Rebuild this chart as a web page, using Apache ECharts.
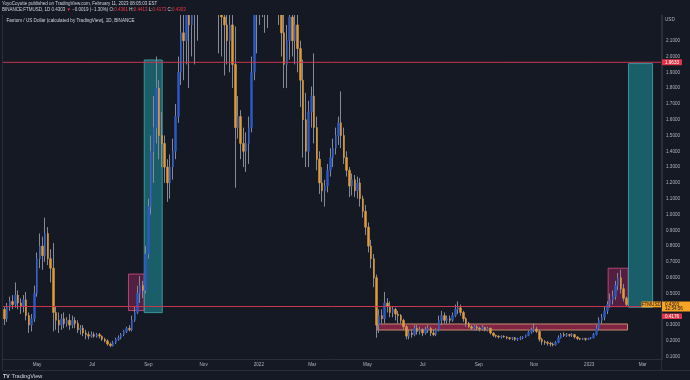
<!DOCTYPE html>
<html><head><meta charset="utf-8">
<script src="https://cdn.jsdelivr.net/npm/echarts@6/dist/echarts.min.js"></script>
<style>html,body{margin:0;padding:0;background:#151924;}#c{width:690px;height:380px;}</style>
</head><body><div id="c"></div>
<script>
// ---- data ----
const startDate = '2021-03-25';   // first 3-day candle
const stepDays = 3;
// [open, close, low, high]
const candles = [
[0.40,0.34,0.30,0.42],[0.34,0.42,0.32,0.44],[0.42,0.45,0.39,0.48],[0.45,0.43,0.40,0.49],[0.43,0.49,0.41,0.57],
[0.49,0.44,0.40,0.52],[0.44,0.42,0.37,0.47],[0.42,0.46,0.38,0.49],[0.46,0.36,0.33,0.51],[0.36,0.30,0.25,0.38],
[0.30,0.34,0.26,0.37],[0.34,0.50,0.32,0.55],[0.50,0.72,0.48,0.76],[0.72,0.80,0.66,0.88],[0.80,0.74,0.65,0.86],
[0.74,0.88,0.70,0.98],[0.88,0.72,0.68,0.92],[0.72,0.66,0.57,0.78],[0.66,0.38,0.26,0.82],[0.38,0.33,0.27,0.42],
[0.33,0.30,0.25,0.38],[0.30,0.34,0.27,0.37],[0.34,0.31,0.28,0.38],[0.31,0.33,0.29,0.35],[0.33,0.30,0.27,0.37],
[0.30,0.33,0.28,0.36],[0.33,0.31,0.28,0.35],[0.31,0.27,0.25,0.33],[0.27,0.28,0.24,0.30],[0.28,0.25,0.23,0.30],
[0.25,0.24,0.21,0.27],[0.24,0.23,0.21,0.26],[0.23,0.24,0.22,0.26],[0.24,0.23,0.22,0.255],[0.23,0.24,0.22,0.25],
[0.24,0.23,0.215,0.25],[0.23,0.21,0.20,0.235],[0.21,0.20,0.19,0.22],[0.20,0.18,0.17,0.21],[0.18,0.17,0.16,0.19],
[0.17,0.19,0.165,0.20],[0.19,0.21,0.18,0.22],[0.21,0.22,0.20,0.235],[0.22,0.24,0.21,0.25],[0.24,0.26,0.23,0.27],
[0.26,0.28,0.25,0.29],[0.28,0.27,0.26,0.30],[0.27,0.33,0.26,0.36],[0.33,0.38,0.32,0.42],[0.38,0.50,0.37,0.55],
[0.50,0.55,0.44,0.61],[0.55,0.52,0.47,0.58],[0.52,0.75,0.50,0.80],[0.75,1.05,0.72,1.10],[1.05,1.40,1.00,1.50],
[1.40,1.55,1.20,1.75],[1.55,1.80,1.45,2.00],[1.80,1.50,1.35,1.85],[1.50,1.45,1.30,1.65],[1.45,1.30,1.20,1.50],
[1.30,1.20,1.08,1.35],[1.20,1.30,1.10,1.38],[1.30,1.40,1.22,1.48],[1.40,1.62,1.35,1.70],[1.62,1.90,1.58,2.00],
[1.90,2.15,1.82,2.30],[2.15,2.10,1.85,2.40],[2.10,2.30,1.95,2.50],[2.30,2.20,1.80,2.45],[2.20,2.40,2.00,2.60],
[2.40,2.55,1.95,2.70],[2.55,2.70,2.10,2.85],[2.70,3.00,2.55,3.30],[3.00,3.15,2.80,3.45],[3.15,2.95,2.70,3.25],
[2.95,2.75,2.55,3.05],[2.75,2.85,2.50,3.00],[2.85,2.60,2.35,2.95],[2.60,2.50,2.30,2.70],[2.50,2.30,2.02,2.60],
[2.30,2.25,2.00,2.45],[2.25,2.20,1.88,2.40],[2.20,2.10,1.95,2.30],[2.10,2.20,1.90,2.35],[2.20,1.95,1.80,2.30],
[1.95,1.55,1.17,2.19],[1.55,1.62,1.48,1.75],[1.62,1.45,1.35,1.66],[1.45,1.40,1.30,1.55],[1.40,1.45,1.27,1.52],
[1.45,1.55,1.32,1.62],[1.55,1.90,1.52,2.00],[1.90,2.40,1.85,2.60],[2.40,2.50,2.02,2.80],[2.50,2.65,2.20,2.90],
[2.65,2.45,2.25,2.80],[2.45,2.35,2.15,2.60],[2.35,2.60,2.18,2.75],[2.60,2.85,2.50,3.00],[2.85,3.10,2.70,3.40],
[3.10,2.85,2.60,3.20],[2.85,2.45,2.20,2.95],[2.45,2.15,2.00,2.55],[2.15,1.95,1.80,2.30],[1.95,2.10,1.80,2.20],
[2.10,2.25,1.98,2.40],[2.25,2.10,2.00,2.35],[2.10,2.20,1.95,2.30],[2.20,2.05,1.90,2.30],[2.05,1.85,1.68,2.10],
[1.85,1.60,1.36,1.98],[1.60,1.40,1.30,1.77],[1.40,1.65,1.30,1.72],[1.65,1.75,1.55,1.81],[1.75,1.55,1.45,2.02],
[1.55,1.35,1.28,1.62],[1.35,1.20,1.13,1.40],[1.20,1.15,1.08,1.30],[1.15,1.18,1.05,1.22],[1.18,1.28,1.14,1.32],
[1.28,1.36,1.24,1.42],[1.36,1.42,1.30,1.48],[1.42,1.50,1.38,1.55],[1.50,1.58,1.44,1.62],[1.58,1.50,1.42,1.78],
[1.50,1.36,1.32,1.55],[1.36,1.28,1.24,1.40],[1.28,1.18,1.11,1.30],[1.18,1.22,1.12,1.26],[1.22,1.15,1.11,1.25],
[1.15,1.20,1.10,1.24],[1.20,1.10,1.05,1.23],[1.10,1.02,0.98,1.12],[1.02,0.92,0.87,1.06],[0.92,0.80,0.76,0.95],
[0.80,0.72,0.66,0.84],[0.72,0.60,0.54,0.75],[0.60,0.30,0.22,0.62],[0.30,0.36,0.25,0.40],[0.36,0.34,0.31,0.40],
[0.34,0.44,0.31,0.51],[0.44,0.42,0.38,0.47],[0.42,0.38,0.35,0.45],[0.38,0.40,0.35,0.42],[0.40,0.37,0.33,0.41],
[0.37,0.36,0.31,0.39],[0.36,0.33,0.31,0.37],[0.33,0.29,0.27,0.34],[0.29,0.23,0.21,0.30],[0.23,0.25,0.21,0.27],
[0.25,0.24,0.22,0.27],[0.24,0.28,0.23,0.30],[0.28,0.26,0.24,0.30],[0.26,0.27,0.24,0.29],[0.27,0.25,0.23,0.28],
[0.25,0.27,0.24,0.29],[0.27,0.28,0.25,0.30],[0.28,0.25,0.23,0.29],[0.25,0.24,0.23,0.27],[0.24,0.27,0.23,0.28],
[0.27,0.33,0.26,0.36],[0.33,0.36,0.30,0.39],[0.36,0.33,0.31,0.38],[0.33,0.34,0.31,0.36],[0.34,0.33,0.31,0.36],
[0.33,0.36,0.32,0.38],[0.36,0.40,0.35,0.43],[0.40,0.41,0.37,0.45],[0.41,0.38,0.36,0.43],[0.38,0.34,0.32,0.39],
[0.34,0.31,0.29,0.35],[0.31,0.29,0.28,0.32],[0.29,0.28,0.27,0.30],[0.28,0.29,0.27,0.30],[0.29,0.28,0.265,0.30],
[0.28,0.275,0.26,0.29],[0.275,0.285,0.265,0.30],[0.285,0.27,0.26,0.29],[0.27,0.28,0.26,0.29],[0.28,0.25,0.24,0.285],
[0.25,0.235,0.225,0.255],[0.235,0.23,0.22,0.24],[0.23,0.225,0.215,0.235],[0.225,0.23,0.215,0.235],[0.23,0.225,0.22,0.235],
[0.225,0.22,0.21,0.23],[0.22,0.215,0.205,0.225],[0.215,0.22,0.205,0.225],[0.22,0.21,0.20,0.225],[0.21,0.215,0.20,0.22],
[0.215,0.22,0.205,0.23],[0.22,0.225,0.21,0.23],[0.225,0.235,0.22,0.24],[0.235,0.255,0.23,0.265],[0.255,0.27,0.245,0.285],
[0.27,0.275,0.255,0.31],[0.275,0.26,0.25,0.29],[0.26,0.21,0.195,0.27],[0.21,0.195,0.175,0.22],[0.195,0.19,0.175,0.205],
[0.19,0.185,0.17,0.20],[0.185,0.18,0.165,0.195],[0.18,0.175,0.165,0.19],[0.175,0.19,0.17,0.20],[0.19,0.22,0.185,0.235],
[0.22,0.24,0.215,0.25],[0.24,0.235,0.225,0.255],[0.235,0.24,0.225,0.25],[0.24,0.235,0.225,0.245],[0.235,0.24,0.225,0.25],
[0.24,0.225,0.215,0.245],[0.225,0.215,0.205,0.23],[0.215,0.21,0.205,0.22],[0.21,0.215,0.205,0.22],[0.215,0.21,0.20,0.22],
[0.21,0.215,0.205,0.22],[0.215,0.22,0.21,0.225],[0.22,0.24,0.215,0.25],[0.24,0.28,0.235,0.30],[0.28,0.33,0.27,0.35],
[0.33,0.35,0.31,0.37],[0.35,0.39,0.33,0.42],[0.39,0.43,0.37,0.45],[0.43,0.46,0.41,0.50],[0.46,0.48,0.43,0.52],
[0.48,0.55,0.46,0.58],[0.55,0.60,0.52,0.63],[0.60,0.53,0.50,0.65],[0.53,0.47,0.45,0.56],[0.47,0.4303,0.4173,0.48]
];
const yTicks = [0.1,0.2,0.3,0.4,0.5,0.6,0.7,0.8,0.9,1.0,1.1,1.2,1.3,1.4,1.5,1.6,1.7,1.8,1.9,2.0,2.1];
const xTickDates = ['2021-05-01','2021-07-01','2021-09-01','2021-11-01','2022-01-01','2022-03-01',
                    '2022-05-01','2022-07-01','2022-09-01','2022-11-01','2023-01-01','2023-03-01'];
const xTickLabels = ['May','Jul','Sep','Nov','2022','Mar','May','Jul','Sep','Nov','2023','Mar'];
const levels = [1.9633, 0.4176];
const lastPrice = 0.4303;
const viewRange = ['2021-03-24T09:22:00Z', '2023-03-22T09:36:00Z'];
const yRange = [0.0823, 2.2627];
// annotation rectangles: [from, to, low, high, kind]
const boxes = [
  ['2021-08-10T00:00:00Z','2021-08-27T10:00:00Z',0.392,0.623,'red'],
  ['2021-08-27T10:00:00Z','2021-09-16T07:00:00Z',0.379,1.978,'teal'],
  ['2022-05-11T19:00:00Z','2023-02-12T07:00:00Z',0.269,0.307,'band'],
  ['2023-01-21T22:00:00Z','2023-02-13T00:00:00Z',0.417,0.660,'red'],
  ['2023-02-13T10:00:00Z','2023-03-12T00:00:00Z',0.413,1.955,'teal']
];

// ---- chart ----
const DAY = 86400000;
const t0 = Date.parse(startDate + 'T00:00:00Z');
const times = candles.map((_, i) => t0 + (i * stepDays + 1) * DAY);
const xTickTimes = xTickDates.map(d => Date.parse(d + 'T00:00:00Z'));
const xMin = Date.parse(viewRange[0]), xMax = Date.parse(viewRange[1]);
const FONT = 'Liberation Sans, Arial, sans-serif';
const BG = '#151924';
const LEVEL_COLOR = '#c8374f';
const boxStyle = {
  red:  {color:'rgba(160,40,100,0.45)', borderColor:'rgba(205,75,125,0.85)', borderWidth:1},
  teal: {color:'rgba(28,130,140,0.66)', borderColor:'rgba(60,160,165,0.9)', borderWidth:1},
  band: {color:'rgba(170,40,80,0.72)', borderColor:'#c98b6b', borderWidth:1}
};

const levelSeries = levels.map(v => ({
  type: 'line', z: 6, silent: true, symbol: 'none', animation: false,
  data: [[xMin, v], [xMax, v]],
  lineStyle: {color: LEVEL_COLOR, width: 1, type: 'solid'},
  itemStyle: {color: LEVEL_COLOR}
}));

const chart = echarts.init(document.getElementById('c'), null, {renderer:'canvas'});
chart.setOption({
  animation: false,
  backgroundColor: BG,
  grid: {left: 3, right: 28, top: 15, bottom: 20.5, containLabel: false},
  xAxis: {
    type: 'value', scale: true, min: xMin, max: xMax,
    axisLine: {show: true, lineStyle: {color: '#2a2e39', width: 1}},
    axisTick: {show: false},
    splitLine: {show: false},
    axisLabel: {
      customValues: xTickTimes,
      formatter: v => { const k = xTickTimes.indexOf(v); return k >= 0 ? xTickLabels[k] : ''; },
      color: '#b2b5be', fontSize: 4.6, fontFamily: FONT, margin: 3
    }
  },
  yAxis: {
    type: 'value', position: 'right', scale: true,
    min: yRange[0], max: yRange[1],
    axisLine: {show: true, lineStyle: {color: '#2a2e39', width: 1}},
    axisTick: {show: false},
    splitLine: {show: false},
    axisLabel: {
      customValues: yTicks,
      formatter: v => v.toFixed(4),
      color: '#b2b5be', fontSize: 4.6, fontFamily: FONT, margin: 4
    }
  },
  series: [
    { // wicks (full range)
      type: 'candlestick', name: 'range', z: 2, clip: true,
      encode: {x: 0, y: [1, 2, 3, 4]},
      data: times.map((t, i) => [t].concat(candles[i])),
      barWidth: 1,
      itemStyle: {color:'#858998', color0:'#858998', borderColor:'#858998', borderColor0:'#858998', borderWidth:1}
    },
    { // bodies
      type: 'candlestick', name: 'FTMUSD', z: 3, clip: true,
      encode: {x: 0, y: [1, 2, 3, 4]},
      data: times.map((t, i) => {
        const c = candles[i];
        return [t, c[0], c[1], Math.min(c[0], c[1]), Math.max(c[0], c[1])];
      }),
      barWidth: 2,
      itemStyle: {color:'#2c58c2', color0:'#e19c3a', borderColor:'#2c58c2', borderColor0:'#e19c3a', borderWidth:0.5}
    },
    { // drawings (rectangles)
      type: 'line', z: 5, data: [], silent: true,
      markArea: {
        silent: true,
        data: boxes.map(b => [
          {coord: [Date.parse(b[0]), b[3]], itemStyle: boxStyle[b[4]]},
          {coord: [Date.parse(b[1]), b[2]]}
        ])
      }
    }
  ].concat(levelSeries)
});

// ---- overlays: header, price tags, frame ----
const yOf = v => chart.convertToPixel({yAxisIndex: 0}, v);
const yTop = yOf(levels[0]);
const yLast = yOf(lastPrice);
const gridTop = yOf(yRange[1]);
const orangeTop = yLast - 3;
const orangeH = 10;
const redTop = orangeTop + orangeH + 2;
const tagFont = {fontSize: 4.6, fontFamily: FONT};

chart.setOption({
  graphic: [
    // mask above the pane (candles beyond the visible price range)
    {type:'rect', shape: {x: 0, y: 0, width: 661, height: gridTop}, style: {fill: BG}, z: 50},
    {type:'text', left: 2, top: 1.5, z: 51, style: {text: 'YoyoCoyotte published on TradingView.com, February 11, 2023 08:05:03 EST', fill:'#d1d4dc', fontSize: 4.5, fontFamily: FONT}},
    {type:'text', left: 2, top: 7.5, z: 51, style: {
      text: '{w|BINANCE:FTMUSD, 1D 0.4303 }{r|▼}{w| −0.0019 (−1.30%) O:}{r|0.4361}{w| H:}{r|0.4413}{w| L:}{r|0.4173}{w| C:}{r|0.4303}',
      rich: {w: {fill:'#d1d4dc', fontSize: 4.5, fontFamily: FONT}, r: {fill:'#f23645', fontSize: 4.5, fontFamily: FONT}}
    }},
    {type:'text', left: 6.5, top: 18, z: 51, style: {text: 'Fantom / US Dollar (calculated by TradingView), 1D, BINANCE', fill:'#d1d4dc', fontSize: 4.6, fontFamily: FONT}},
    {type:'text', left: 665, top: 17.5, z: 51, style: {text: 'USD', fill:'#b2b5be', fontSize: 4.6, fontFamily: FONT}},
    {type:'line', z: 51, shape: {x1: 2.5, y1: 15, x2: 2.5, y2: 370}, style: {stroke:'#2a2e39', lineWidth: 1}},
    {type:'line', z: 51, shape: {x1: 661.5, y1: 15, x2: 661.5, y2: 370}, style: {stroke:'#2a2e39', lineWidth: 1}},
    {type:'line', z: 51, shape: {x1: 2.5, y1: 370.5, x2: 690, y2: 370.5}, style: {stroke:'#2a2e39', lineWidth: 1}},
    {type:'rect', shape: {x: 662, y: yTop - 3, width: 20, height: 6, r: 0.5}, style: {fill:'#e0334a'}, z: 60},
    {type:'text', x: 672, y: yTop, style: Object.assign({text: levels[0].toFixed(4), fill:'#ffffff', align:'center', verticalAlign:'middle'}, tagFont), z: 61},
    {type:'rect', shape: {x: 641.5, y: orangeTop, width: 19.5, height: 5.8}, style: {fill:'#f7a325'}, z: 60},
    {type:'text', x: 651.2, y: orangeTop + 2.9, style: Object.assign({text: 'FTMUSD', fill:'#131722', align:'center', verticalAlign:'middle'}, tagFont), z: 61},
    {type:'rect', shape: {x: 662, y: orangeTop, width: 28, height: orangeH}, style: {fill:'#f7a325'}, z: 60},
    {type:'text', x: 665, y: orangeTop + 2.9, style: Object.assign({text: lastPrice.toFixed(4), fill:'#131722', verticalAlign:'middle'}, tagFont), z: 61},
    {type:'text', x: 665, y: orangeTop + 7.3, style: Object.assign({text: '12:54:56', fill:'#131722', verticalAlign:'middle'}, tagFont), z: 61},
    {type:'rect', shape: {x: 662, y: redTop, width: 20, height: 5.5, r: 0.5}, style: {fill:'#e0334a'}, z: 60},
    {type:'text', x: 672, y: redTop + 2.75, style: Object.assign({text: levels[1].toFixed(4), fill:'#ffffff', align:'center', verticalAlign:'middle'}, tagFont), z: 61},
    {type:'text', left: 3, top: 374, z: 51, style: {text: 'TV', fill:'#d1d4dc', fontSize: 5.2, fontWeight: 'bold', fontFamily: FONT}},
    {type:'text', left: 11.5, top: 373.8, z: 51, style: {text: 'TradingView', fill:'#d1d4dc', fontSize: 5.6, fontFamily: FONT}}
  ]
});
</script>
</body></html>
